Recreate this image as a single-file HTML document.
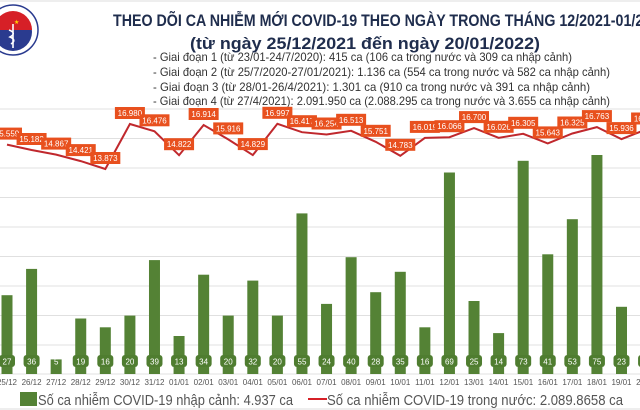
<!DOCTYPE html>
<html><head><meta charset="utf-8"><style>
html,body{margin:0;padding:0;background:#fff;}
svg{display:block;font-family:"Liberation Sans",sans-serif;}
.bar{fill:#548235}
.bl{fill:#4f7d30}
.bt{font-size:8px;fill:#fff;text-anchor:middle}
.xl{font-size:8px;fill:#555;text-anchor:middle}
.lr{fill:#e8501e}
.lt{font-size:8px;fill:#fff;text-anchor:middle}
</style></head><body>
<svg width="640" height="410" viewBox="0 0 640 410" xmlns="http://www.w3.org/2000/svg">
<rect width="640" height="410" fill="#fff"/>
<line x1="0" y1="1" x2="640" y2="1" stroke="#ddd"/>
<circle cx="13" cy="30" r="25" fill="#fff" stroke="#2a3b8f" stroke-width="1.5"/>
<circle cx="13" cy="32" r="19" fill="#2a3b8f"/>
<path d="M-6 30 A19 19 0 0 1 32 30 Z" fill="#d62027"/>
<text x="14" y="24" font-size="6" fill="#ffd700">★</text>
<path d="M13 24 L13 48 M9 30 Q17 33 10 37 Q17 40 11 44" stroke="#fff" stroke-width="1.6" fill="none"/>
<text x="113" y="26" font-size="17" font-weight="bold" fill="#1f2d4d" textLength="554" lengthAdjust="spacingAndGlyphs">THEO DÕI CA NHIỄM MỚI COVID-19 THEO NGÀY TRONG THÁNG 12/2021-01/2022</text>
<text x="190" y="49" font-size="17" font-weight="bold" fill="#1f2d4d" textLength="350" lengthAdjust="spacingAndGlyphs">(từ ngày 25/12/2021 đến ngày 20/01/2022)</text>
<g font-size="12" fill="#333">
<text x="153" y="61" textLength="419" lengthAdjust="spacingAndGlyphs">- Giai đoạn 1 (từ 23/01-24/7/2020): 415 ca (106 ca trong nước và 309 ca nhập cảnh)</text>
<text x="153" y="76" textLength="457" lengthAdjust="spacingAndGlyphs">- Giai đoạn 2 (từ 25/7/2020-27/01/2021): 1.136 ca (554 ca trong nước và 582 ca nhập cảnh)</text>
<text x="153" y="91" textLength="437" lengthAdjust="spacingAndGlyphs">- Giai đoạn 3 (từ 28/01-26/4/2021): 1.301 ca (910 ca trong nước và 391 ca nhập cảnh)</text>
<text x="153" y="105" textLength="457" lengthAdjust="spacingAndGlyphs">- Giai đoạn 4 (từ 27/4/2021): 2.091.950 ca (2.088.295 ca trong nước và 3.655 ca nhập cảnh)</text>
</g>
<g stroke="#e0e0e0">
<line x1="0" y1="109" x2="640" y2="109"/><line x1="0" y1="138.5" x2="640" y2="138.5"/>
<line x1="0" y1="168" x2="640" y2="168"/><line x1="0" y1="197.5" x2="640" y2="197.5"/>
<line x1="0" y1="227" x2="640" y2="227"/><line x1="0" y1="256.5" x2="640" y2="256.5"/>
<line x1="0" y1="286" x2="640" y2="286"/><line x1="0" y1="315.5" x2="640" y2="315.5"/>
<line x1="0" y1="345" x2="640" y2="345"/><line x1="0" y1="374" x2="640" y2="374"/>
</g>
<g>
<g transform="translate(7,0)"><rect class="bar" x="-5.5" y="295.2" width="11" height="78.8"/><rect class="bl" x="-8" y="355" width="16" height="12" rx="3"/><text class="bt" y="364.5">27</text><text class="xl" y="385">25/12</text></g>
<g transform="translate(31.58,0)"><rect class="bar" x="-5.5" y="268.9" width="11" height="105.1"/><rect class="bl" x="-8" y="355" width="16" height="12" rx="3"/><text class="bt" y="364.5">36</text><text class="xl" y="385">26/12</text></g>
<g transform="translate(56.16,0)"><rect class="bar" x="-5.5" y="359.4" width="11" height="14.6"/><text class="bt" y="364.5">5</text><text class="xl" y="385">27/12</text></g>
<g transform="translate(80.74,0)"><rect class="bar" x="-5.5" y="318.5" width="11" height="55.5"/><rect class="bl" x="-8" y="355" width="16" height="12" rx="3"/><text class="bt" y="364.5">19</text><text class="xl" y="385">28/12</text></g>
<g transform="translate(105.32,0)"><rect class="bar" x="-5.5" y="327.3" width="11" height="46.7"/><rect class="bl" x="-8" y="355" width="16" height="12" rx="3"/><text class="bt" y="364.5">16</text><text class="xl" y="385">29/12</text></g>
<g transform="translate(129.9,0)"><rect class="bar" x="-5.5" y="315.6" width="11" height="58.4"/><rect class="bl" x="-8" y="355" width="16" height="12" rx="3"/><text class="bt" y="364.5">20</text><text class="xl" y="385">30/12</text></g>
<g transform="translate(154.48,0)"><rect class="bar" x="-5.5" y="260.1" width="11" height="113.9"/><rect class="bl" x="-8" y="355" width="16" height="12" rx="3"/><text class="bt" y="364.5">39</text><text class="xl" y="385">31/12</text></g>
<g transform="translate(179.06,0)"><rect class="bar" x="-5.5" y="336" width="11" height="38"/><rect class="bl" x="-8" y="355" width="16" height="12" rx="3"/><text class="bt" y="364.5">13</text><text class="xl" y="385">01/01</text></g>
<g transform="translate(203.64,0)"><rect class="bar" x="-5.5" y="274.7" width="11" height="99.3"/><rect class="bl" x="-8" y="355" width="16" height="12" rx="3"/><text class="bt" y="364.5">34</text><text class="xl" y="385">02/01</text></g>
<g transform="translate(228.22,0)"><rect class="bar" x="-5.5" y="315.6" width="11" height="58.4"/><rect class="bl" x="-8" y="355" width="16" height="12" rx="3"/><text class="bt" y="364.5">20</text><text class="xl" y="385">03/01</text></g>
<g transform="translate(252.8,0)"><rect class="bar" x="-5.5" y="280.6" width="11" height="93.4"/><rect class="bl" x="-8" y="355" width="16" height="12" rx="3"/><text class="bt" y="364.5">32</text><text class="xl" y="385">04/01</text></g>
<g transform="translate(277.38,0)"><rect class="bar" x="-5.5" y="315.6" width="11" height="58.4"/><rect class="bl" x="-8" y="355" width="16" height="12" rx="3"/><text class="bt" y="364.5">20</text><text class="xl" y="385">05/01</text></g>
<g transform="translate(301.96,0)"><rect class="bar" x="-5.5" y="213.4" width="11" height="160.6"/><rect class="bl" x="-8" y="355" width="16" height="12" rx="3"/><text class="bt" y="364.5">55</text><text class="xl" y="385">06/01</text></g>
<g transform="translate(326.54,0)"><rect class="bar" x="-5.5" y="303.9" width="11" height="70.1"/><rect class="bl" x="-8" y="355" width="16" height="12" rx="3"/><text class="bt" y="364.5">24</text><text class="xl" y="385">07/01</text></g>
<g transform="translate(351.12,0)"><rect class="bar" x="-5.5" y="257.2" width="11" height="116.8"/><rect class="bl" x="-8" y="355" width="16" height="12" rx="3"/><text class="bt" y="364.5">40</text><text class="xl" y="385">08/01</text></g>
<g transform="translate(375.7,0)"><rect class="bar" x="-5.5" y="292.2" width="11" height="81.8"/><rect class="bl" x="-8" y="355" width="16" height="12" rx="3"/><text class="bt" y="364.5">28</text><text class="xl" y="385">09/01</text></g>
<g transform="translate(400.28,0)"><rect class="bar" x="-5.5" y="271.8" width="11" height="102.2"/><rect class="bl" x="-8" y="355" width="16" height="12" rx="3"/><text class="bt" y="364.5">35</text><text class="xl" y="385">10/01</text></g>
<g transform="translate(424.86,0)"><rect class="bar" x="-5.5" y="327.3" width="11" height="46.7"/><rect class="bl" x="-8" y="355" width="16" height="12" rx="3"/><text class="bt" y="364.5">16</text><text class="xl" y="385">11/01</text></g>
<g transform="translate(449.44,0)"><rect class="bar" x="-5.5" y="172.5" width="11" height="201.5"/><rect class="bl" x="-8" y="355" width="16" height="12" rx="3"/><text class="bt" y="364.5">69</text><text class="xl" y="385">12/01</text></g>
<g transform="translate(474.02,0)"><rect class="bar" x="-5.5" y="301" width="11" height="73"/><rect class="bl" x="-8" y="355" width="16" height="12" rx="3"/><text class="bt" y="364.5">25</text><text class="xl" y="385">13/01</text></g>
<g transform="translate(498.6,0)"><rect class="bar" x="-5.5" y="333.1" width="11" height="40.9"/><rect class="bl" x="-8" y="355" width="16" height="12" rx="3"/><text class="bt" y="364.5">14</text><text class="xl" y="385">14/01</text></g>
<g transform="translate(523.18,0)"><rect class="bar" x="-5.5" y="160.8" width="11" height="213.2"/><rect class="bl" x="-8" y="355" width="16" height="12" rx="3"/><text class="bt" y="364.5">73</text><text class="xl" y="385">15/01</text></g>
<g transform="translate(547.76,0)"><rect class="bar" x="-5.5" y="254.3" width="11" height="119.7"/><rect class="bl" x="-8" y="355" width="16" height="12" rx="3"/><text class="bt" y="364.5">41</text><text class="xl" y="385">16/01</text></g>
<g transform="translate(572.34,0)"><rect class="bar" x="-5.5" y="219.2" width="11" height="154.8"/><rect class="bl" x="-8" y="355" width="16" height="12" rx="3"/><text class="bt" y="364.5">53</text><text class="xl" y="385">17/01</text></g>
<g transform="translate(596.92,0)"><rect class="bar" x="-5.5" y="155" width="11" height="219"/><rect class="bl" x="-8" y="355" width="16" height="12" rx="3"/><text class="bt" y="364.5">75</text><text class="xl" y="385">18/01</text></g>
<g transform="translate(621.5,0)"><rect class="bar" x="-5.5" y="306.8" width="11" height="67.2"/><rect class="bl" x="-8" y="355" width="16" height="12" rx="3"/><text class="bt" y="364.5">23</text><text class="xl" y="385">19/01</text></g>
<g transform="translate(646.08,0)"><rect class="bar" x="-5.5" y="292.2" width="11" height="81.8"/><rect class="bl" x="-8" y="355" width="16" height="12" rx="3"/><text class="bt" y="364.5">28</text><text class="xl" y="385">20/01</text></g>
</g>
<polyline fill="none" stroke="#c0282d" stroke-width="2" points="7,144.6 31.58,150 56.16,154.6 80.74,161.1 105.32,169 129.9,124 154.48,131.3 179.06,155.2 203.64,125 228.22,139.4 252.8,155.1 277.38,123.8 301.96,132.2 326.54,134.5 351.12,130.8 375.7,141.8 400.28,155.8 424.86,137.9 449.44,137.2 474.02,128.1 498.6,137.8 523.18,133.8 547.76,143.4 572.34,133.5 596.92,127.1 621.5,139.1 646.08,129.5"/>
<g>
<g transform="translate(7,144.6)"><rect class="lr" x="-15" y="-17" width="30" height="12"/><text class="lt" y="-8">15.559</text></g>
<g transform="translate(31.58,150)"><rect class="lr" x="-15" y="-17" width="30" height="12"/><text class="lt" y="-8">15.182</text></g>
<g transform="translate(56.16,154.6)"><rect class="lr" x="-15" y="-17" width="30" height="12"/><text class="lt" y="-8">14.867</text></g>
<g transform="translate(80.74,161.1)"><rect class="lr" x="-15" y="-17" width="30" height="12"/><text class="lt" y="-8">14.421</text></g>
<g transform="translate(105.32,169)"><rect class="lr" x="-15" y="-17" width="30" height="12"/><text class="lt" y="-8">13.873</text></g>
<g transform="translate(129.9,124)"><rect class="lr" x="-15" y="-17" width="30" height="12"/><text class="lt" y="-8">16.980</text></g>
<g transform="translate(154.48,131.3)"><rect class="lr" x="-15" y="-17" width="30" height="12"/><text class="lt" y="-8">16.476</text></g>
<g transform="translate(179.06,155.2)"><rect class="lr" x="-15" y="-17" width="30" height="12"/><text class="lt" y="-8">14.822</text></g>
<g transform="translate(203.64,125)"><rect class="lr" x="-15" y="-17" width="30" height="12"/><text class="lt" y="-8">16.914</text></g>
<g transform="translate(228.22,139.4)"><rect class="lr" x="-15" y="-17" width="30" height="12"/><text class="lt" y="-8">15.916</text></g>
<g transform="translate(252.8,155.1)"><rect class="lr" x="-15" y="-17" width="30" height="12"/><text class="lt" y="-8">14.829</text></g>
<g transform="translate(277.38,123.8)"><rect class="lr" x="-15" y="-17" width="30" height="12"/><text class="lt" y="-8">16.997</text></g>
<g transform="translate(301.96,132.2)"><rect class="lr" x="-15" y="-17" width="30" height="12"/><text class="lt" y="-8">16.417</text></g>
<g transform="translate(326.54,134.5)"><rect class="lr" x="-15" y="-17" width="30" height="12"/><text class="lt" y="-8">16.254</text></g>
<g transform="translate(351.12,130.8)"><rect class="lr" x="-15" y="-17" width="30" height="12"/><text class="lt" y="-8">16.513</text></g>
<g transform="translate(375.7,141.8)"><rect class="lr" x="-15" y="-17" width="30" height="12"/><text class="lt" y="-8">15.751</text></g>
<g transform="translate(400.28,155.8)"><rect class="lr" x="-15" y="-17" width="30" height="12"/><text class="lt" y="-8">14.783</text></g>
<g transform="translate(424.86,137.9)"><rect class="lr" x="-15" y="-17" width="30" height="12"/><text class="lt" y="-8">16.019</text></g>
<g transform="translate(449.44,137.2)"><rect class="lr" x="-15" y="-17" width="30" height="12"/><text class="lt" y="-8">16.066</text></g>
<g transform="translate(474.02,128.1)"><rect class="lr" x="-15" y="-17" width="30" height="12"/><text class="lt" y="-8">16.700</text></g>
<g transform="translate(498.6,137.8)"><rect class="lr" x="-15" y="-17" width="30" height="12"/><text class="lt" y="-8">16.026</text></g>
<g transform="translate(523.18,133.8)"><rect class="lr" x="-15" y="-17" width="30" height="12"/><text class="lt" y="-8">16.305</text></g>
<g transform="translate(547.76,143.4)"><rect class="lr" x="-15" y="-17" width="30" height="12"/><text class="lt" y="-8">15.643</text></g>
<g transform="translate(572.34,133.5)"><rect class="lr" x="-15" y="-17" width="30" height="12"/><text class="lt" y="-8">16.325</text></g>
<g transform="translate(596.92,127.1)"><rect class="lr" x="-15" y="-17" width="30" height="12"/><text class="lt" y="-8">16.763</text></g>
<g transform="translate(621.5,139.1)"><rect class="lr" x="-15" y="-17" width="30" height="12"/><text class="lt" y="-8">15.936</text></g>
<g transform="translate(646.08,129.5)"><rect class="lr" x="-15" y="-17" width="30" height="12"/><text class="lt" y="-8">16.600</text></g>
</g>
<rect x="20" y="392" width="17" height="14" fill="#548235"/>
<text x="38" y="405" font-size="15" fill="#555" textLength="255" lengthAdjust="spacingAndGlyphs">Số ca nhiễm COVID-19 nhập cảnh: 4.937 ca</text>
<line x1="308" y1="399" x2="327" y2="399" stroke="#d62027" stroke-width="2"/>
<text x="327" y="405" font-size="15" fill="#555" textLength="296" lengthAdjust="spacingAndGlyphs">Số ca nhiễm COVID-19 trong nước: 2.089.8658 ca</text>
<line x1="0" y1="409" x2="640" y2="409" stroke="#ddd"/>
</svg>
</body></html>
